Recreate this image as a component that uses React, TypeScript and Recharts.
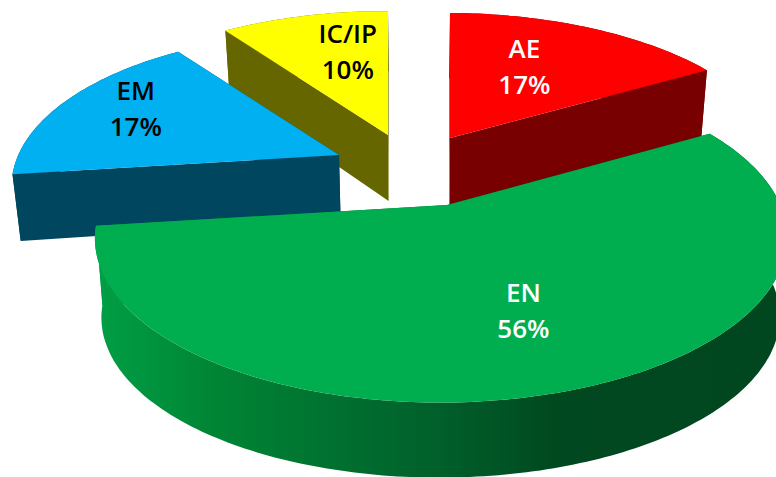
import { Pie, PieChart } from "recharts"

const categories = ["AE", "IC/IP", "EM", "EN"]
const shares = [16.6, 10, 17, 56.4]

const WIDTH = 776
const HEIGHT = 477
const CENTER_X = 447
const CENTER_Y = 205
const RADIUS = 339
const TILT = 158 / 339
const PERSPECTIVE = 0.2
const SIDE_PERSPECTIVE = 0.017
const START_ANGLE = 30.24

// per slice: explosion offset, scale, rim depth, colours and label nudge
const sliceStyle: Record<string, any> = {
  AE: { dx: 3, dy: -67, scale: 0.95, stretch: 1.03, depth: 71, slope: 0.045, top: "#FF0000", wall: "#780000", text: "#FFFFFF", labelDx: -15, labelDy: -2 },
  "IC/IP": { dx: -59, dy: -70, scale: 0.94, stretch: 1, depth: 66, slope: 0.05, top: "#FFFF00", wall: "#666600", text: "#000000", labelDx: 13, labelDy: -8 },
  EM: { dx: -108, dy: -50, scale: 0.93, stretch: 1, depth: 65, slope: 0.1, top: "#00B0F0", wall: "#00465F", text: "#000000", labelDx: -36, labelDy: -13 },
  EN: { dx: 0, dy: 0, scale: 1, stretch: 1, depth: 80, slope: -0.025, top: "#00AE4F", wall: "url(#enWall)", text: "#FFFFFF", labelDx: 3, labelDy: 4 },
}

const data = categories.map((name, i) => ({ name, value: shares[i] }))

const RAD = Math.PI / 180

// recharts angle (ccw from 3 o'clock) -> point on the tilted plane
function project(cx: number, cy: number, r: number, angle: number, style: any, ratio = 1) {
  const X = Math.cos(angle * RAD) * ratio
  const Y = -Math.sin(angle * RAD) * ratio
  const w = 1 - PERSPECTIVE * Y + SIDE_PERSPECTIVE * X
  return {
    x: cx + (r * style.scale * style.stretch * X) / w,
    y: cy + (r * TILT * style.scale * Y) / w,
  }
}

// the rim sits lower on the page and pulls in towards the middle
function lower(p: { x: number; y: number }, oy: number, style: any) {
  return {
    x: p.x + (420 - p.x) * 0.02,
    y: p.y + style.depth + style.slope * (p.y - oy),
  }
}

const toPath = (points: { x: number; y: number }[]) =>
  points.map((p, i) => `${i ? "L" : "M"}${p.x.toFixed(1)} ${p.y.toFixed(1)}`).join(" ") + " Z"

function Slice3D(props: any) {
  const { cx, cy, outerRadius, startAngle, endAngle, name } = props
  const style = sliceStyle[name]
  const ox = cx + style.dx
  const oy = cy + style.dy
  const from = Math.min(startAngle, endAngle)
  const to = Math.max(startAngle, endAngle)
  const arc = []
  for (let a = from; a < to; a += 1) arc.push(project(ox, oy, outerRadius, a, style))
  arc.push(project(ox, oy, outerRadius, to, style))
  const apex = { x: ox, y: oy }
  const first = arc[0]
  const last = arc[arc.length - 1]
  const drop = (p: { x: number; y: number }) => lower(p, oy, style)

  return (
    <g>
      <path d={toPath([apex, first, drop(first), drop(apex)])} fill={style.wall} />
      <path d={toPath([apex, last, drop(last), drop(apex)])} fill={style.wall} />
      <path d={toPath([...arc, ...arc.map(drop).reverse()])} fill={style.wall} />
      <path d={toPath([apex, ...arc])} fill={style.top} />
    </g>
  )
}

function SliceLabel(props: any) {
  const { cx, cy, outerRadius, midAngle, name, value } = props
  const style = sliceStyle[name]
  const p = project(cx + style.dx, cy + style.dy, outerRadius, midAngle, style, 0.6)
  const x = p.x + style.labelDx
  const y = p.y + style.labelDy
  const textProps = {
    x,
    textAnchor: "middle" as const,
    fill: style.text,
    fontFamily: "'Open Sans', sans-serif",
    fontSize: 26,
    fontWeight: 600,
  }
  return (
    <g>
      <text {...textProps} y={y - 8}>
        {name}
      </text>
      <text {...textProps} y={y + 28}>
        {Math.round(value)}%
      </text>
    </g>
  )
}

export default function App() {
  return (
    <div style={{ position: "absolute", left: 0, top: 0, width: WIDTH, height: HEIGHT, background: "#fff" }}>
      <PieChart width={WIDTH} height={HEIGHT} margin={{ top: 0, right: 0, bottom: 0, left: 0 }}>
        <defs>
          <linearGradient id="enWall" gradientUnits="userSpaceOnUse" x1="91" y1="0" x2="776" y2="0">
            <stop offset="0" stopColor="#00A046" />
            <stop offset="0.18" stopColor="#008535" />
            <stop offset="0.36" stopColor="#007030" />
            <stop offset="0.52" stopColor="#005E2A" />
            <stop offset="0.685" stopColor="#00481F" />
            <stop offset="1" stopColor="#00471F" />
          </linearGradient>
        </defs>
        <Pie
          data={data}
          dataKey="value"
          nameKey="name"
          cx={CENTER_X}
          cy={CENTER_Y}
          outerRadius={RADIUS}
          startAngle={START_ANGLE}
          endAngle={START_ANGLE + 360}
          paddingAngle={0}
          stroke="none"
          shape={Slice3D}
          label={SliceLabel}
          labelLine={false}
          isAnimationActive={false}
        />
      </PieChart>
    </div>
  )
}
